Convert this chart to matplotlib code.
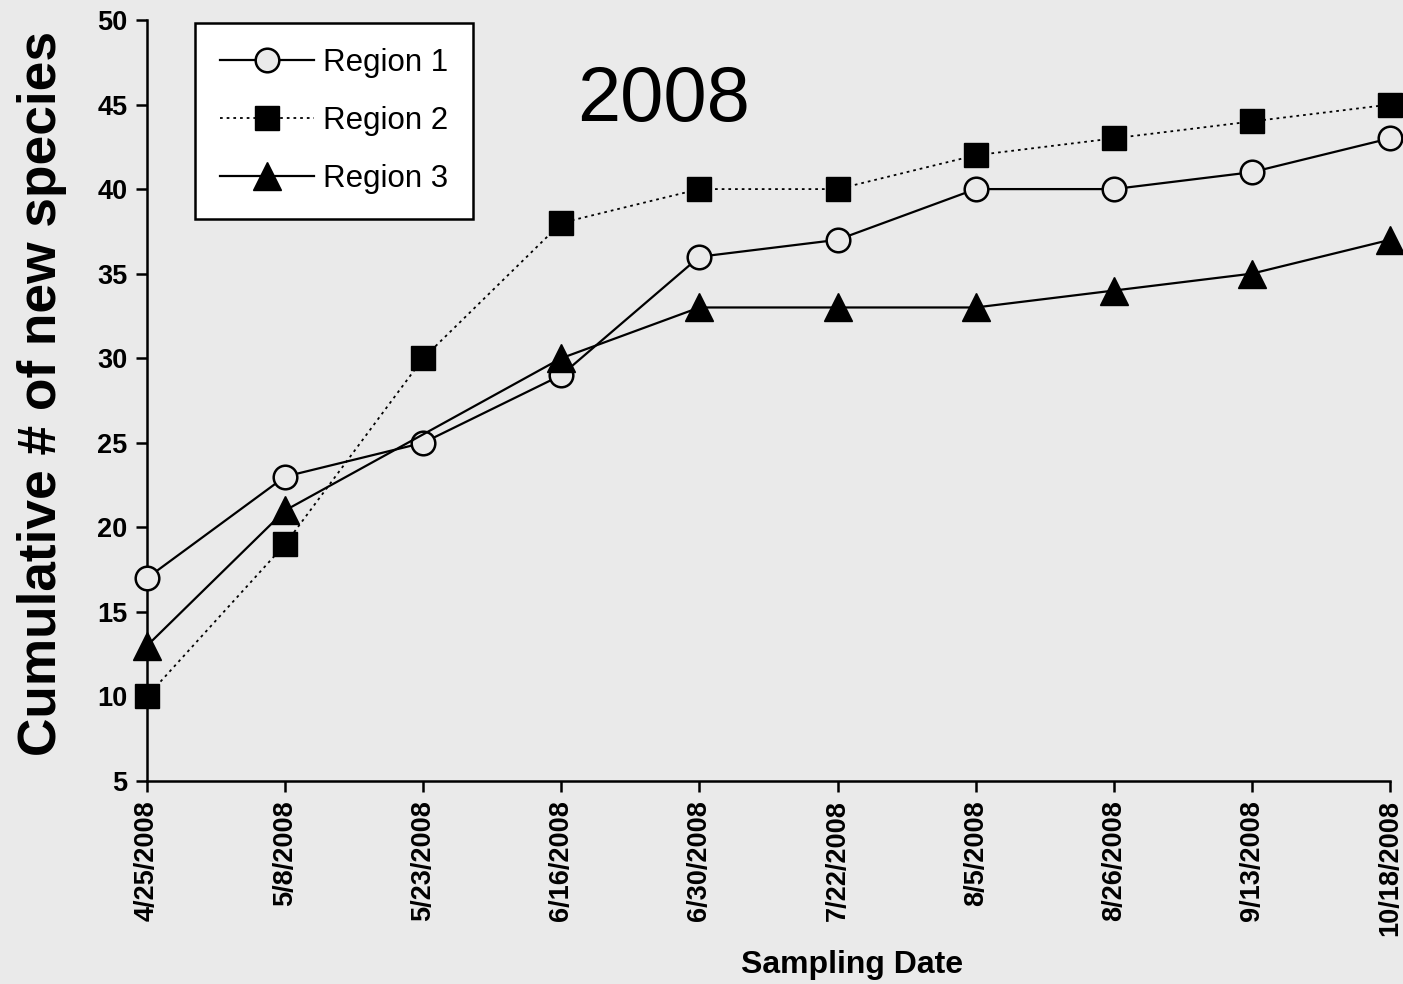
import matplotlib
matplotlib.use("Agg")
import matplotlib.pyplot as plt
import numpy as np

plt.rcParams['font.family'] = ['Liberation Sans', 'DejaVu Sans']

dates = ["4/25/2008", "5/8/2008", "5/23/2008", "6/16/2008", "6/30/2008",
         "7/22/2008", "8/5/2008", "8/26/2008", "9/13/2008", "10/18/2008"]
region1 = [17, 23, 25, 29, 36, 37, 40, 40, 41, 43]
region2 = [10, 19, 30, 38, 40, 40, 42, 43, 44, 45]
region3 = [13, 21, None, 30, 33, 33, 33, 34, 35, 37]
y_ticks = [5, 10, 15, 20, 25, 30, 35, 40, 45, 50]

bg = "#EAEAEA"
fig = plt.figure(figsize=(14.03, 9.84), dpi=100, facecolor=bg)
ax = fig.add_axes([0.1048, 0.2063, 0.9907 - 0.1048, 0.9797 - 0.2063])
ax.set_facecolor(bg)

x = np.arange(len(dates))

ax.plot(x, region1, color="black", lw=1.6, marker="o", ms=17,
        mfc=bg, mec="black", mew=1.8, label="Region 1", clip_on=False, zorder=3)
ax.plot(x, region2, color="black", lw=1.3, ls=(0, (1.5, 2.2)), marker="s", ms=17,
        mfc="black", mec="black", label="Region 2", clip_on=False, zorder=4)
x3 = [xi for xi, v in zip(x, region3) if v is not None]
y3 = [v for v in region3 if v is not None]
ax.plot(x3, y3, color="black", lw=1.6, marker="^", ms=20,
        mfc="black", mec="black", label="Region 3", clip_on=False, zorder=5)

ax.set_xlim(0, len(dates) - 1)
ax.set_ylim(5, 50)
ax.set_yticks(y_ticks)
ax.set_xticks(x)
ax.set_xticklabels(dates, rotation=90, fontsize=19.5, fontweight="bold")
ax.set_yticklabels([str(t) for t in y_ticks], fontsize=19.5, fontweight="bold")
ax.tick_params(axis="both", direction="out", length=8, width=1.8, color="black", pad=6)

for side in ["top", "right"]:
    ax.spines[side].set_visible(False)
for side in ["left", "bottom"]:
    ax.spines[side].set_linewidth(1.8)
    ax.spines[side].set_color("black")

fig.text(42 / 1403, 1 - 393 / 984, "Cumulative # of new species", fontsize=38.3,
         fontweight="bold", rotation=90, ha="center", va="center")
fig.text(852 / 1403, 1 - 965 / 984, "Sampling Date", fontsize=23,
         fontweight="bold", ha="center", va="center")
fig.text(664 / 1403, 1 - 100 / 984, "2008", fontsize=56, ha="center", va="center")

leg = ax.legend(loc="upper left", bbox_to_anchor=((195 - 147) / 1243, 1 - 3 / 761),
                fontsize=22.5, frameon=True, fancybox=False, edgecolor="black",
                facecolor="white", framealpha=1, handlelength=3.0, borderpad=0.8,
                labelspacing=0.9, handletextpad=0.3, borderaxespad=0)
leg.get_frame().set_linewidth(1.8)

fig.savefig("out.png", dpi=100, facecolor=bg)
